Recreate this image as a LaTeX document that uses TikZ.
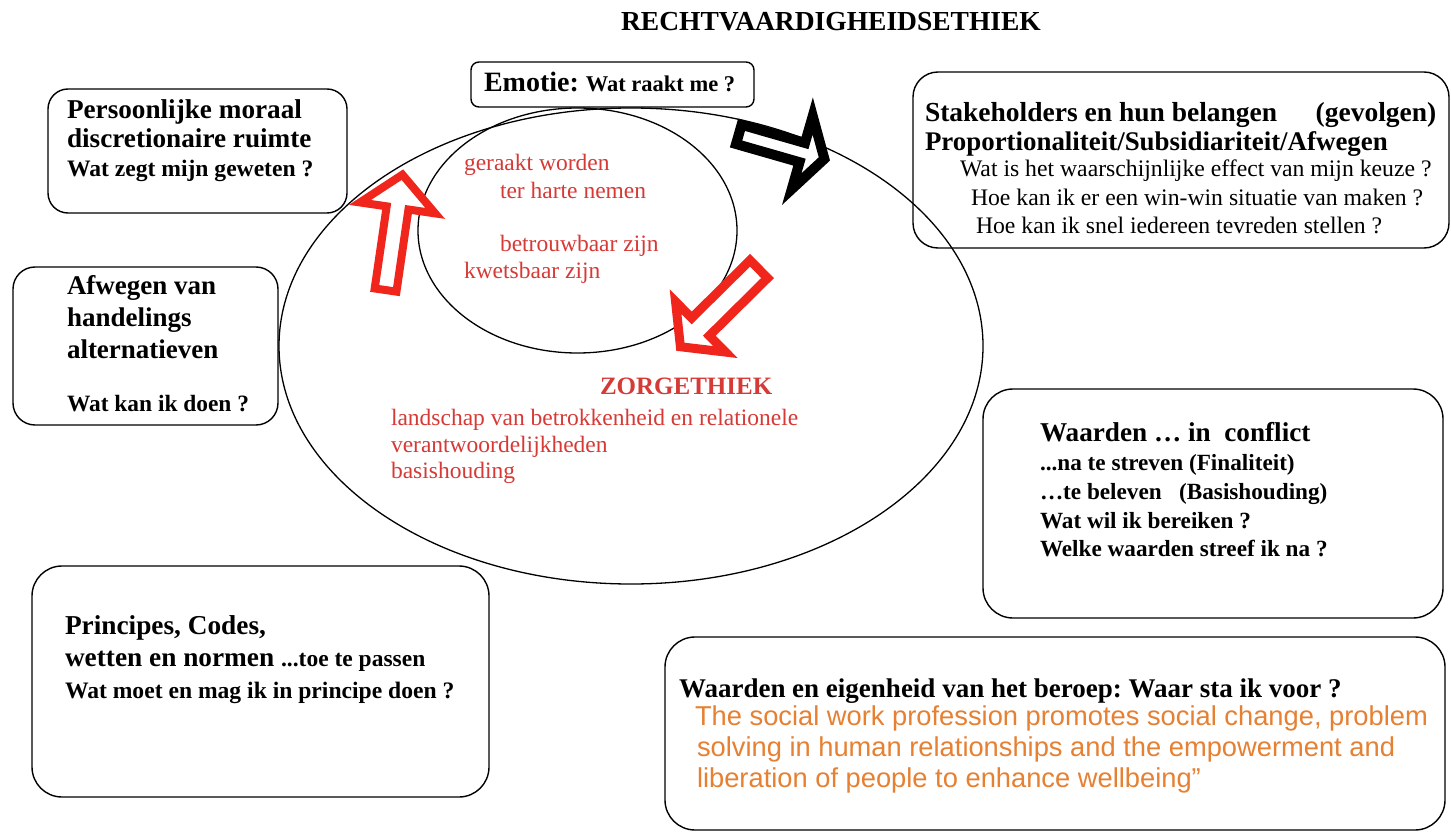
\documentclass[tikz,border=0pt]{standalone}
\usepackage{fontspec}
\setmainfont{Liberation Serif}
\newfontfamily\arialfont{Liberation Sans}
\usetikzlibrary{shapes.geometric}
\frenchspacing
\definecolor{redtxt}{RGB}{214,58,54}
\definecolor{arrowred}{RGB}{240,38,28}
\definecolor{orangetxt}{RGB}{230,128,50}
\newcommand\fsz[1]{\fontsize{#1}{#1}\selectfont}
\newcommand\blockarrow[9]{%
  \begin{scope}[shift={(#1,#2)}, rotate=#3]
    \draw[draw=#9, line width=#8pt, fill=white, line join=miter, miter limit=10]
      ({#8/2},{-(#7-#8/2)}) -- ({#4-#5+#8/2},{-(#7-#8/2)}) -- ({#4-#5+#8/2},{-(#6-#8/2)})
      -- ({#4-0.8*#8},0) -- ({#4-#5+#8/2},{#6-#8/2}) -- ({#4-#5+#8/2},{#7-#8/2})
      -- ({#8/2},{#7-#8/2}) -- cycle;
  \end{scope}}
\tikzset{
  box/.style={draw=black, line width=1.4pt, rounded corners=#1, inner sep=0pt, rectangle},
  box/.default=20pt,
  oval/.style={draw=black, line width=1.3pt, ellipse, inner sep=0pt},
  txt/.style={anchor=base west, inner sep=0pt, outer sep=0pt},
  bt/.style={txt, font=\fsz{#1}\bfseries},
  rt/.style={txt, font=\fsz{#1}},
  redt/.style={txt, font=\fsz{#1}, text=redtxt},
  ort/.style={txt, font=\arialfont\fsz{27.3}, text=orangetxt},
}
\begin{document}
\begin{tikzpicture}[x=1pt, y=-1pt]
\useasboundingbox (0,0) rectangle (1451,832);
\fill[white] (0,0) rectangle (1451,832);

% ellipses
\node[oval, minimum width=704pt, minimum height=476pt] (big) at (631,346) {};
\node[oval, minimum width=319pt, minimum height=245pt] (inner) at (577.5,230.5) {};

% boxes
\node[box=8pt,  minimum width=283pt, minimum height=45pt]  (bEmo)  at (612.5,84.5) {};
\node[box=20pt, minimum width=299pt, minimum height=124pt] (bPers) at (197.5,151) {};
\node[box=22pt, minimum width=265pt, minimum height=158pt] (bAfw)  at (145.5,346) {};
\node[box=25pt, minimum width=536pt, minimum height=176pt] (bStake) at (1181,160) {};
\node[box=30pt, minimum width=460pt, minimum height=229pt] (bConf) at (1213,503.5) {};
\node[box=30pt, minimum width=457pt, minimum height=231pt] (bPrinc) at (260.5,681.5) {};
\node[box=30pt, minimum width=780pt, minimum height=193pt] (bEigen) at (1055,733.5) {};

% block arrows
\blockarrow{385}{294}{81.7}{127}{44}{42}{15}{8}{arrowred}
\blockarrow{762}{266}{-135.3}{122}{40}{40}{17}{9}{arrowred}
\blockarrow{734}{133}{-16}{102}{36}{43}{15}{10}{black}

% title
\node[bt=27.5, anchor=base] (title) at (831,31) {RECHTVAARDIGHEIDSETHIEK};

% emotie
\node[bt=28] (emo) at (484,92) {Emotie:\hspace{0.25em}{\fsz{22.5}Wat raakt me ?}};

% persoonlijke
\node[bt=27.2] (p1) at (67,119) {Persoonlijke moraal};
\node[bt=27.2] (p2) at (67,148) {discretionaire ruimte};
\node[bt=23.6] (p3) at (67,176) {Wat zegt mijn geweten ?};

% afwegen
\node[bt=27] (a1) at (67,294) {Afwegen van};
\node[bt=27] (a2) at (67,326) {handelings};
\node[bt=27] (a3) at (67,358) {alternatieven};
\node[bt=23.4] (a4) at (67,411) {Wat kan ik doen ?};

% stakeholders
\node[bt=27.5] (s1) at (925,122) {Stakeholders en hun belangen\hspace{1.4em}(gevolgen)};
\node[bt=26.9] (s2) at (925,150) {Proportionaliteit/Subsidiariteit/Afwegen};
\node[rt=23.7] (s3) at (960,176) {Wat is het waarschijnlijke effect van mijn keuze ?};
\node[rt=23.7] (s4) at (971,205) {Hoe kan ik er een win-win situatie van maken ?};
\node[rt=23.7] (s5) at (976,233) {Hoe kan ik snel iedereen tevreden stellen ?};

% inner ellipse texts
\node[redt=23.5] (z1) at (464,170) {geraakt worden};
\node[redt=23.5] (z2) at (500,198) {ter harte nemen};
\node[redt=23.5] (z3) at (500,251) {betrouwbaar zijn};
\node[redt=23.5] (z4) at (464,278) {kwetsbaar zijn};

% zorgethiek
\node[txt, font=\fsz{25}\bfseries, text=redtxt] (zorg) at (600,394) {ZORGETHIEK};
\node[redt=23.5] (l1) at (391,425) {landschap van betrokkenheid en relationele};
\node[redt=23.5] (l2) at (391,452) {verantwoordelijkheden};
\node[redt=23.5] (l3) at (391,478) {basishouding};

% waarden in conflict
\node[bt=27.2] (c1) at (1040,441) {Waarden … in\ \ conflict};
\node[bt=23.2] (c2) at (1040,470) {...na te streven (Finaliteit)};
\node[bt=23.2] (c3) at (1040,499) {…te beleven\ \ \ (Basishouding)};
\node[bt=23.2] (c4) at (1040,528) {Wat wil ik bereiken ?};
\node[bt=23.2] (c5) at (1040,556) {Welke waarden streef ik na ?};

% principes
\node[bt=27.3] (r1) at (65,634) {Principes, Codes,};
\node[bt=27.3] (r2) at (65,666) {wetten en normen {\fsz{23.5}...toe te passen}};
\node[bt=23.6] (r3) at (65,698) {Wat moet en mag ik in principe doen ?};

% waarden en eigenheid
\node[bt=27] (e1) at (679,697) {Waarden en eigenheid van het beroep: Waar sta ik voor ?};
\node[ort] (o1) at (695,725) {The social work profession promotes social change, problem};
\node[ort] (o2) at (697,756) {solving in human relationships and the empowerment and};
\node[ort] (o3) at (697,787) {liberation of people to enhance wellbeing”};
\end{tikzpicture}
\end{document}
